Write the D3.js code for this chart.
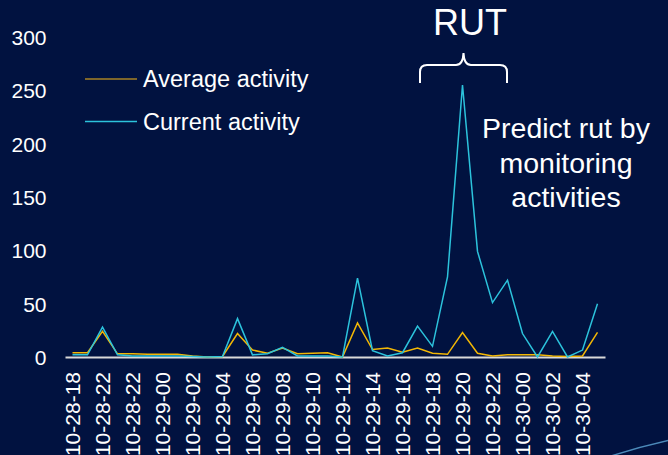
<!DOCTYPE html>
<html>
<head>
<meta charset="utf-8">
<script src="https://cdn.jsdelivr.net/npm/d3@7"></script>
<style>
  html, body { margin: 0; padding: 0; background: #011240; overflow: hidden; }
  svg { display: block; }
  text { font-family: "Liberation Sans", Arial, sans-serif; fill: #ffffff; }
</style>
</head>
<body>
<svg id="chart" width="668" height="455"></svg>
<script>
// ---- data ----
const xTickLabels = ["10-28-18","10-28-22","10-28-22","10-29-00","10-29-02","10-29-04","10-29-06","10-29-08","10-29-10",
                     "10-29-12","10-29-14","10-29-16","10-29-18","10-29-20","10-29-22","10-30-00","10-30-02","10-30-04"];
const averageActivity = [4, 4, 24, 3, 3, 2.5, 2.5, 2.5, 1, 0, 0.5, 22, 6.5, 3.5, 8.5, 3, 3.5, 4,
                         0, 32, 7, 8.5, 4.5, 8.5, 3.5, 2.5, 23, 3.5, 1, 2, 2, 2, 1, 0.5, 1, 23];
const currentActivity = [2, 2, 28, 2, 1, 1, 1, 1, 0.5, 0, 0.5, 36, 2, 3, 9, 1, 1, 1,
                         0, 74, 6, 1, 4, 29, 10, 75, 255, 99, 51, 72, 22, 0, 24, 0, 6.5, 50];
const yTicks = [0, 50, 100, 150, 200, 250, 300];
const seriesNames = ["Average activity", "Current activity"];
const seriesColors = ["#F2B705", "#2CC3DC"];

// ---- chart ----
const svg = d3.select("#chart");
const idx = averageActivity.map((d, i) => i);

const x = d3.scaleBand().domain(idx).range([65, 605]).padding(0);
const y = d3.scaleLinear().domain([0, 300]).range([357, 37]);
const cx = i => x(i) + x.bandwidth() / 2;

// decorative swoosh bottom right
svg.append("path")
  .attr("d", "M 605 458 Q 638 447 670 440")
  .attr("fill", "none").attr("stroke", "#5fa9d8").attr("stroke-width", 1.5).attr("opacity", 0.8);

// y axis
const yAxis = svg.append("g")
  .attr("transform", "translate(65,0)")
  .call(d3.axisLeft(y).tickValues(yTicks).tickSize(0).tickPadding(18.5).tickFormat(d3.format("d")));
yAxis.select(".domain").remove();
yAxis.selectAll("text")
  .style("font-size", "21px").style("font-family", "'Liberation Sans', Arial, sans-serif")
  .attr("fill", "#ffffff").attr("dy", "0.35em");

// x axis
const xAxis = svg.append("g")
  .attr("transform", "translate(0,357)")
  .call(d3.axisBottom(x)
    .tickValues(idx.filter(i => i % 2 === 0))
    .tickFormat(i => xTickLabels[i / 2])
    .tickSize(0));
xAxis.select(".domain").attr("stroke", "#d9d9d9").attr("stroke-width", 2);
xAxis.selectAll("text")
  .style("font-size", "21px").style("font-family", "'Liberation Sans', Arial, sans-serif")
  .attr("fill", "#ffffff")
  .attr("transform", "rotate(-90)")
  .attr("text-anchor", "end")
  .attr("x", -15).attr("y", 0).attr("dy", "0.36em");

// lines
const line = d3.line().x((d, i) => cx(i)).y(d => y(d));
[averageActivity, currentActivity].forEach((s, k) => {
  svg.append("path")
    .datum(s)
    .attr("d", line)
    .attr("fill", "none")
    .attr("stroke", seriesColors[k])
    .attr("stroke-width", 1.5)
    .attr("stroke-linejoin", "miter");
});

// legend
const legendY = [79, 121.5];
seriesNames.forEach((name, k) => {
  svg.append("line")
    .attr("x1", 85).attr("x2", 137)
    .attr("y1", legendY[k]).attr("y2", legendY[k])
    .attr("stroke", k === 0 ? "#A98324" : "#2CC3DC").attr("stroke-width", 1.5);
  svg.append("text")
    .attr("x", 143).attr("y", legendY[k]).attr("dy", "0.35em")
    .style("font-size", "23.5px")
    .text(name);
});

// RUT annotation
svg.append("text")
  .attr("x", 470).attr("y", 35)
  .attr("text-anchor", "middle")
  .style("font-size", "36px")
  .text("RUT");

svg.append("path")
  .attr("d", "M 420 83 L 420 72 Q 420 65 427 65 L 456 65 Q 463 65 463.5 53 Q 464 65 471 65 L 500 65 Q 507 65 507 72 L 507 83")
  .attr("fill", "none").attr("stroke", "#ffffff").attr("stroke-width", 2);

const note = ["Predict rut by", "monitoring", "activities"];
svg.append("text")
  .attr("text-anchor", "middle")
  .style("font-size", "28.5px")
  .selectAll("tspan").data(note).join("tspan")
  .attr("x", 566)
  .attr("y", (d, i) => 138 + i * 34.5)
  .text(d => d);
</script>
</body>
</html>
